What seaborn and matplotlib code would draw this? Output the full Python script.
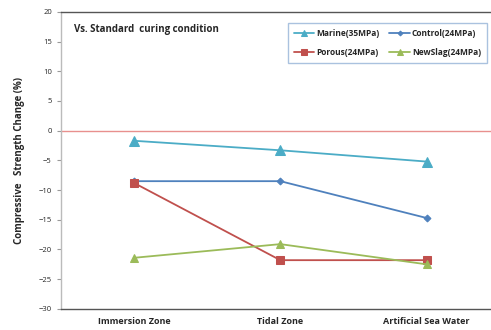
import matplotlib
matplotlib.use("Agg")
import matplotlib.pyplot as plt
import seaborn as sns
import pandas as pd

categories = ["Immersion Zone", "Tidal Zone", "Artificial Sea Water"]
marine = [-1.7, -3.3, -5.2]
control = [-8.5, -8.5, -14.7]
porous = [-8.8, -21.8, -21.8]
newslag = [-21.4, -19.1, -22.5]
series_names = ["Marine(35MPa)", "Control(24MPa)", "Porous(24MPa)", "NewSlag(24MPa)"]

sns.set_style("white")
plt.rcParams['font.family'] = ['Open Sans', 'DejaVu Sans']

rows = []
for name, vals in zip(series_names, [marine, control, porous, newslag]):
    for i, (c, v) in enumerate(zip(categories, vals)):
        rows.append({"pos": i, "cat": c, "series": name, "value": v})
df = pd.DataFrame(rows)

colors = {"Marine(35MPa)": "#4BACC6", "Control(24MPa)": "#4F81BD",
          "Porous(24MPa)": "#C0504D", "NewSlag(24MPa)": "#9BBB59"}
markers = {"Marine(35MPa)": "^", "Control(24MPa)": "D",
           "Porous(24MPa)": "s", "NewSlag(24MPa)": "^"}
msizes = {"Marine(35MPa)": 6.5, "Control(24MPa)": 3.5,
          "Porous(24MPa)": 5.5, "NewSlag(24MPa)": 5.5}

fig = plt.figure(figsize=(4.91, 3.30), dpi=100)
ax = fig.add_axes([0.124, 0.064, 0.876, 0.9])

ax.axhline(0, color="#E8908E", lw=1.0, zorder=1)
handles = {}
for name in series_names:
    sub = df[df.series == name]
    sns.lineplot(data=sub, x="pos", y="value", ax=ax, color=colors[name],
                 marker=markers[name], markersize=msizes[name], markeredgecolor=colors[name],
                 lw=1.3, label=name, zorder=3)

ax.set_xlim(-0.5, 2.44)
ax.set_ylim(-30, 20)
ax.set_yticks(range(-30, 21, 5))
ax.set_xticks(range(len(categories)))
ax.set_xticklabels(categories, fontsize=6.5, fontweight="bold")
ax.tick_params(axis="y", labelsize=5.5, length=3, direction="out", left=True, color="#999999")
ax.tick_params(axis="x", length=0, pad=6)
ax.set_xlabel("")
ax.set_ylabel("Compressive   Strength Change (%)", fontsize=7, fontweight="bold", labelpad=10)

ax.spines["left"].set_color("#BBBBBB")
ax.spines["bottom"].set_color("#555555")
ax.spines["top"].set_color("#555555")
ax.spines["right"].set_visible(False)
for s in ["left", "bottom", "top"]:
    ax.spines[s].set_linewidth(1.0)

ax.text(0.03, 0.94, "Vs. Standard  curing condition", transform=ax.transAxes,
        fontsize=7, fontweight="bold", va="center", ha="left")

h, l = ax.get_legend_handles_labels()
hm = dict(zip(l, h))
order = ["Marine(35MPa)", "Porous(24MPa)", "Control(24MPa)", "NewSlag(24MPa)"]
leg = ax.legend([hm[o] for o in order], order, ncol=2, loc="upper right",
                bbox_to_anchor=(1.0, 0.975), fontsize=6, markerscale=0.7,
                frameon=True, fancybox=False, handlelength=2.5, columnspacing=1.2,
                borderpad=0.7, labelspacing=1.2, handletextpad=0.2)
leg.get_frame().set_edgecolor("#95B3D7")
leg.get_frame().set_linewidth(1.0)
for t in leg.get_texts():
    t.set_fontweight("bold")

fig.savefig("out.png", dpi=100)
